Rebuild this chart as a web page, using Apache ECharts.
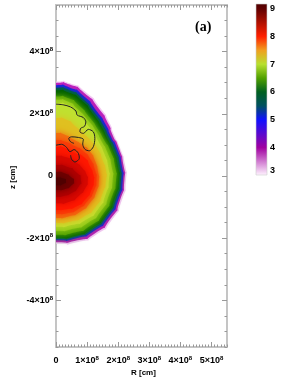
<!DOCTYPE html>
<html><head><meta charset="utf-8">
<script src="https://cdn.jsdelivr.net/npm/echarts@6/dist/echarts.min.js"></script>
<style>html,body{margin:0;padding:0;background:#fff}#c{width:282px;height:382px;filter:blur(0.5px)}</style>
</head><body><div id="c"></div>
<script>
// Units: R and z in 1e8 cm; log density levels
const levelColors=['#f4c8f4','#c020c0','#2020f0','#005a70','#006000','#50a000','#90c818','#c0e030','#e0c020','#f07010','#f84008','#ff1800','#d80800','#b00000','#700000','#500000'];
const contourPink=[[0,3.04],[.45,2.98],[.93,2.72],[1.41,2.21],[1.74,1.67],[1.84,1.38],[2.06,.9],[2.22,.35],[2.25,-.13],[2.12,-.77],[1.8,-1.41],[1.29,-1.89],[.71,-2.12],[0,-2.18]];
const contourMagenta=[[0,3.0],[.44,2.94],[.9,2.68],[1.37,2.18],[1.7,1.65],[1.8,1.37],[2.02,.9],[2.17,.35],[2.2,-.13],[2.07,-.75],[1.76,-1.37],[1.26,-1.84],[.69,-2.07],[0,-2.13]];
const contourBlue=[[0,2.92],[.43,2.85],[.86,2.6],[1.3,2.1],[1.63,1.6],[1.74,1.33],[1.97,.88],[2.12,.33],[2.15,-.13],[2.02,-.72],[1.7,-1.33],[1.22,-1.77],[.66,-2.0],[0,-2.07]];
const contourTeal=[[0,2.84],[.42,2.77],[.82,2.52],[1.24,2.04],[1.56,1.56],[1.68,1.3],[1.91,.86],[2.06,.32],[2.09,-.13],[1.96,-.7],[1.65,-1.28],[1.18,-1.72],[.64,-1.95],[0,-2.03]];
const contourDarkGreen=[[0,2.76],[.42,2.68],[.8,2.45],[1.2,1.98],[1.5,1.52],[1.62,1.26],[1.83,.84],[1.99,.32],[2.03,-.13],[1.9,-.68],[1.62,-1.24],[1.15,-1.68],[.62,-1.92],[0,-1.99]];
const contourGreen=[[0,2.56],[.4,2.5],[.72,2.28],[1.08,1.88],[1.38,1.45],[1.52,1.2],[1.75,.8],[1.9,.3],[1.93,-.13],[1.8,-.65],[1.54,-1.18],[1.1,-1.6],[.58,-1.82],[0,-1.89]];
const contourLime=[[0,2.45],[.39,2.39],[.68,2.16],[1.02,1.8],[1.3,1.42],[1.44,1.16],[1.65,.76],[1.79,.29],[1.82,-.13],[1.7,-.62],[1.45,-1.12],[1.03,-1.5],[.54,-1.7],[0,-1.76]];
const contourYellowGreen=[[0,2.34],[.38,2.28],[.64,2.05],[.95,1.72],[1.2,1.38],[1.36,1.12],[1.55,.72],[1.68,.28],[1.7,-.13],[1.6,-.58],[1.36,-1.05],[.97,-1.4],[.5,-1.58],[0,-1.63]];
const contourYellow=[[0,1.86],[.35,1.8],[.62,1.6],[.9,1.35],[1.15,1.1],[1.35,.85],[1.5,.5],[1.6,.2],[1.61,-.13],[1.5,-.55],[1.28,-.98],[.9,-1.3],[.47,-1.46],[0,-1.51]];
const contourOrange=[[0,1.38],[.3,1.32],[.55,1.18],[.85,1.0],[1.08,.8],[1.25,.5],[1.36,.1],[1.38,-.13],[1.3,-.5],[1.1,-.85],[.78,-1.15],[.4,-1.3],[0,-1.35]];
const contourOrangeRed=[[0,1.15],[.3,1.1],[.58,.97],[.88,.8],[1.1,.55],[1.25,.2],[1.3,-.13],[1.22,-.46],[1.02,-.8],[.72,-1.06],[.37,-1.19],[0,-1.22]];
const contourRed=[[0,.93],[.3,.9],[.6,.75],[.9,.6],[1.1,.3],[1.2,.05],[1.22,-.13],[1.15,-.42],[.95,-.75],[.65,-.98],[.33,-1.07],[0,-1.09]];
const contourRedDeep=[[0,.65],[.33,.6],[.62,.45],[.85,.25],[.98,.05],[1.02,-.13],[.95,-.38],[.72,-.65],[.45,-.82],[0,-.88]];
const contourDarkRed=[[0,.35],[.35,.3],[.65,.12],[.8,-.13],[.72,-.35],[.5,-.55],[.25,-.64],[0,-.67]];
const contourDark=[[0,.13],[.3,.08],[.5,-.05],[.58,-.15],[.5,-.3],[.3,-.42],[0,-.45]];
const contourDeep=[[0,-.05],[.25,-.08],[.32,-.15],[.25,-.25],[0,-.3]];
const contours=[contourPink,contourMagenta,contourBlue,contourTeal,contourDarkGreen,contourGreen,contourLime,contourYellowGreen,contourYellow,contourOrange,contourOrangeRed,contourRed,contourRedDeep,contourDarkRed,contourDark,contourDeep];
const lineOuter=[[0,2.31],[.23,2.29],[.47,2.22],[.64,2.09],[.68,1.96],[.88,1.88],[.96,1.74],[.92,1.6],[.79,1.53],[.77,1.42],[.88,1.37],[1.04,1.5],[1.2,1.42],[1.25,1.21],[1.2,.94],[1.07,.81],[.93,.86],[.86,1.03],[.88,1.18],[.72,1.24],[.5,1.26],[.41,1.21],[.47,1.1],[.58,1.05]];
const lineInner=[[0,.99],[.18,1.02],[.34,.92],[.45,.78],[.58,.85],[.72,.73],[.75,.57],[.61,.45],[.5,.54],[.47,.67]];
const xMajor=[0,1,2,3,4,5];
const yMajor=[-4,-2,0,2,4];
const barValues=[3,4,5,6,7,8,9];
const barStops=[[3,'#fff4ff'],[4,'#a000a0'],[5,'#1010ff'],[5.5,'#005060'],[6,'#006020'],[6.5,'#50a000'],[7,'#b8e030'],[7.5,'#f0a020'],[8,'#ff2000'],[9,'#600000'],[9.18,'#500000']];

const sup=v=>{ if(v===0)return '{a|0}'; const a=Math.abs(v); return '{a|'+(v<0?'-':'')+a+'×10}{s|8}'; };
const rich={a:{fontSize:9,fontFamily:'Liberation Sans',color:'#000',fontWeight:'bold',lineHeight:11},s:{fontSize:6,fontFamily:'Liberation Sans',color:'#000',fontWeight:'bold',verticalAlign:'top',lineHeight:11}};
const ln={show:true,onZero:false,lineStyle:{color:'#c4c4c4',width:1.8}};
function xAx(pos,major,label){return {type:'value',gridIndex:0,position:pos,min:0,max:5.5,
  axisLine:ln,splitLine:{show:false},
  interval:.1,
  axisTick:major?{show:true,inside:true,length:5,customValues:xMajor,lineStyle:{color:'#999'}}:{show:true,inside:true,length:2.5,lineStyle:{color:'#999'}},
  axisLabel:label?{show:true,customValues:xMajor,margin:8,formatter:sup,rich}:{show:false}};}
function yAx(pos,major,label){return {type:'value',gridIndex:0,position:pos,min:-5.5,max:5.5,
  axisLine:ln,splitLine:{show:false},
  interval:.5,
  axisTick:major?{show:true,inside:true,length:5,customValues:yMajor,lineStyle:{color:'#999'}}:{show:true,inside:true,length:2.5,lineStyle:{color:'#999'}},
  axisLabel:label?{show:true,customValues:yMajor,margin:3,formatter:sup,rich}:{show:false}};}

const option={animation:false,backgroundColor:'#fff',
 grid:[{left:56,top:5,width:171,height:342},{left:256,top:4,width:11,height:171}],
 title:{text:'(a)',left:190,top:15,textStyle:{fontFamily:'Liberation Serif',fontWeight:'bold',fontSize:14,color:'#000'}},
 xAxis:[xAx('bottom',false,false),xAx('bottom',true,true),xAx('top',false,false),xAx('top',true,false),
  {type:'value',gridIndex:1,min:0,max:1,show:false}],
 yAxis:[yAx('left',false,false),yAx('left',true,true),yAx('right',false,false),yAx('right',true,false),
  {type:'value',gridIndex:1,position:'right',min:3,max:9.18,interval:1,splitLine:{show:false},axisLine:{show:false},axisTick:{show:false},
   axisLabel:{show:true,margin:3,fontSize:9,fontWeight:'bold',fontFamily:'Liberation Sans',color:'#000',customValues:barValues,verticalAlignMinLabel:'bottom'}}],
 graphic:[
  {type:'text',left:131,top:369,style:{text:'R [cm]',fontSize:8,fontWeight:'bold',fontFamily:'Liberation Sans',fill:'#000'}},
  {type:'text',x:9,y:189,rotation:Math.PI/2,style:{text:'z [cm]',fontSize:8,fontWeight:'bold',fontFamily:'Liberation Sans',fill:'#000'}}
 ],
 series:[
 {type:'custom',xAxisIndex:0,yAxisIndex:0,clip:true,z:2,coordinateSystem:'cartesian2d',
  data:contours.map((c,i)=>[i,0]),encode:{x:1,y:1},
  renderItem:(p,api)=>{const i=api.value(0),c=contours[i];
    const right=c.map(d=>api.coord(d));
    const left=c.slice(1,-1).reverse().map(d=>api.coord([-d[0],d[1]]));
    return {type:'polygon',shape:{points:right.concat(left),smooth:1},
      style:{fill:levelColors[i],shadowBlur:i>3?7:0,shadowColor:levelColors[i]}};}},
 {type:'line',xAxisIndex:0,yAxisIndex:0,data:lineOuter,smooth:.3,symbol:'none',z:3,lineStyle:{color:'#222',width:1}},
 {type:'line',xAxisIndex:0,yAxisIndex:0,data:lineInner,smooth:.3,symbol:'none',z:3,lineStyle:{color:'#222',width:1}},
 {type:'custom',xAxisIndex:4,yAxisIndex:4,coordinateSystem:'cartesian2d',z:2,
  data:[[0,3,9.18]],encode:{x:0,y:[1,2]},
  renderItem:(p,api)=>{const a=api.coord([0,3]),b=api.coord([1,9.18]);
    return {type:'rect',shape:{x:a[0],y:b[1],width:b[0]-a[0],height:a[1]-b[1]},
     style:{stroke:'#ccc',lineWidth:.6,fill:new echarts.graphic.LinearGradient(0,1,0,0,barStops.map(s=>({offset:(s[0]-3)/6.18,color:s[1]})))}};}}
 ]};
const chart=echarts.init(document.getElementById('c'),null,{renderer:'canvas'});
chart.setOption(option);
</script></body></html>
